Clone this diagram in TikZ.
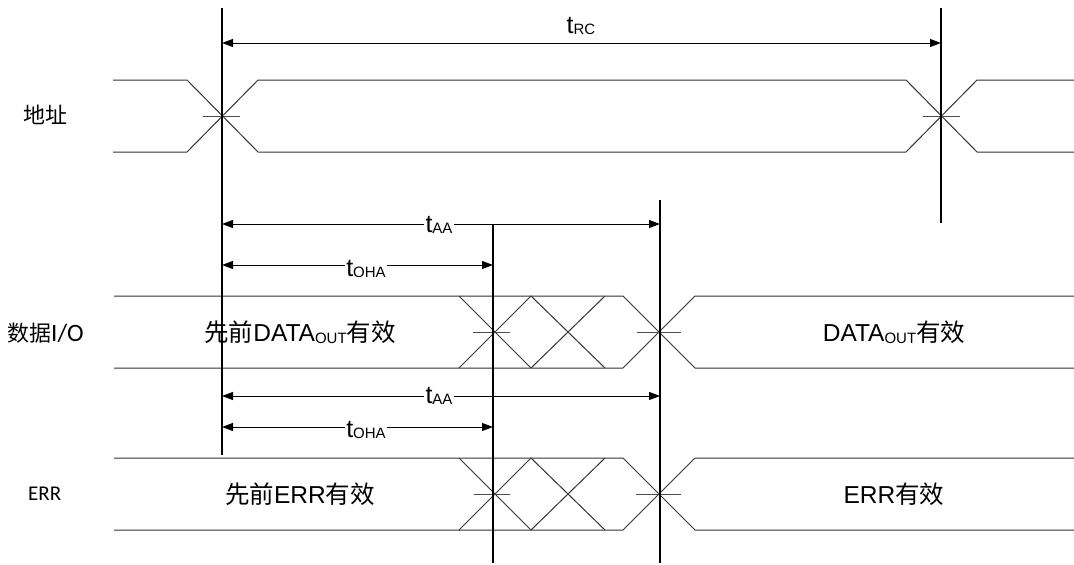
\documentclass[tikz,border=0pt]{standalone}
\usepackage{fontspec}
\setmainfont{Liberation Sans}
\newfontfamily\cjk{Noto Sans CJK SC}
\newfontfamily\calfont{Carlito}
\usetikzlibrary{arrows.meta}
\newcommand\tsub[1]{t\raisebox{-0.04em}{\fontsize{15}{17}\selectfont #1}}
\newcommand\outsub{\raisebox{-0.08em}{\fontsize{15}{17}\selectfont OUT}}
\begin{document}
\begin{tikzpicture}[x=1pt,y=-1pt,
  wave/.style={line width=1pt, draw=black!80, line join=miter},
  tick/.style={line width=1pt, draw=black!70},
  vline/.style={line width=1.1pt, draw=black},
  dim/.style={line width=1pt, draw=black, {Triangle[length=11pt,width=8pt]}-{Triangle[length=11pt,width=8pt]}},
  tlab/.style={fill=white, inner sep=1.5pt, anchor=base, font=\fontsize{25}{28}\selectfont},
  sig/.style={font=\fontsize{22}{26}\selectfont, inner sep=0pt},
  txt/.style={font=\fontsize{24.5}{28}\selectfont, inner sep=0pt}]
\useasboundingbox (0,0) rectangle (1074,565);

% ---------- Address ----------
\draw[wave] (113,80)--(187,80)--(258,152)--(906,152)--(977,80)--(1074,80);
\draw[wave] (113,152)--(187,152)--(258,80)--(906,80)--(977,152)--(1074,152);
\draw[tick] (203,116)--(240,116);
\draw[tick] (923,116)--(960,116);

% ---------- Data I/O ----------
\draw[wave] (114,296)--(623,296)--(695,368)--(1074,368);
\draw[wave] (114,368)--(623,368)--(695,296)--(1074,296);
\draw[wave] (459,296)--(531,368)--(605,296);
\draw[wave] (459,368)--(531,296)--(605,368);
\draw[tick] (473,332)--(510,332);
\draw[tick] (637,332)--(681,332);

% ---------- ERR ----------
\draw[wave] (114,458)--(623,458)--(695,530)--(1074,530);
\draw[wave] (114,530)--(623,530)--(695,458)--(1074,458);
\draw[wave] (459,458)--(531,530)--(605,458);
\draw[wave] (459,530)--(531,458)--(605,530);
\draw[tick] (474,494)--(510,494);
\draw[tick] (636,494)--(681,494);

% ---------- vertical reference lines ----------
\coordinate (v1t) at (222,8);   \coordinate (v1b) at (222,455);
\coordinate (v2t) at (941,8);   \coordinate (v2b) at (941,223);
\coordinate (v3t) at (493,224); \coordinate (v3b) at (493,563);
\coordinate (v4t) at (660,200); \coordinate (v4b) at (660,563);
\draw[vline] (v1t)--(v1b);
\draw[vline] (v2t)--(v2b);
\draw[vline] (v3t)--(v3b);
\draw[vline] (v4t)--(v4b);

% ---------- dimension arrows ----------
\coordinate (rcL) at (222,43);  \coordinate (rcR) at (941,43);
\draw[dim] (rcL)--(rcR);
\node[tlab, fill=none] (tRC) at (581,33) {\tsub{RC}};

\coordinate (aa1L) at (222,224); \coordinate (aa1R) at (660,224);
\draw[dim] (aa1L)--(aa1R);
\node[tlab] (tAA1) at (439,232) {\tsub{AA}};
\coordinate (oh1L) at (222,265); \coordinate (oh1R) at (493,265);
\draw[dim] (oh1L)--(oh1R);
\node[tlab] (tOH1) at (366,276) {\tsub{OHA}};

\coordinate (aa2L) at (222,396); \coordinate (aa2R) at (660,396);
\draw[dim] (aa2L)--(aa2R);
\node[tlab] (tAA2) at (439,403) {\tsub{AA}};
\coordinate (oh2L) at (222,427); \coordinate (oh2R) at (493,427);
\draw[dim] (oh2L)--(oh2R);
\node[tlab] (tOH2) at (366,437) {\tsub{OHA}};

% ---------- signal names ----------
\node[sig, anchor=west] (addr) at (23,115) {\cjk 地址};
\node[sig, anchor=west] (dio) at (7,333) {{\cjk 数据}\calfont\fontsize{25}{28}\selectfont I/O};
\node[sig, anchor=west, font=\calfont\fontsize{21}{24}\selectfont] (err) at (28,494) {ERR};

% ---------- contents ----------
\node[txt] (d1) at (300,332) {{\cjk 先前}DATA\outsub{\cjk 有效}};
\node[txt] (d2) at (894,332) {DATA\outsub{\cjk 有效}};
\node[txt] (e1) at (300,494) {{\cjk 先前}ERR{\cjk 有效}};
\node[txt] (e2) at (894,494) {ERR{\cjk 有效}};
\end{tikzpicture}
\end{document}
